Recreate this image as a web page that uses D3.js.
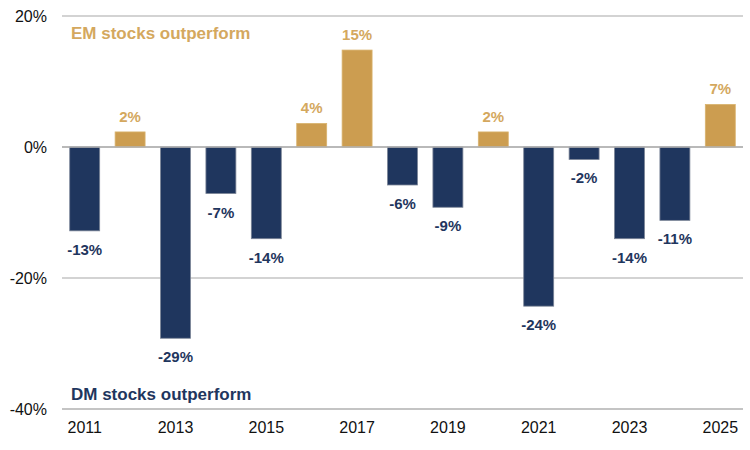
<!DOCTYPE html>
<html>
<head>
<meta charset="utf-8">
<script src="https://cdn.jsdelivr.net/npm/d3@7"></script>
<style>
  body { margin: 0; background: #fff; }
  svg { font-family: "Liberation Sans", Arial, sans-serif; }
</style>
</head>
<body>
<div class="canvas"></div>
<script>
// chart data
const years = [2011, 2012, 2013, 2014, 2015, 2016, 2017, 2018, 2019, 2020, 2021, 2022, 2023, 2024, 2025];
const values = [-12.8, 2.3, -29.2, -7.1, -14.0, 3.6, 14.8, -5.8, -9.2, 2.3, -24.3, -1.9, -14.0, -11.2, 6.5];
const labels = ['-13%', '2%', '-29%', '-7%', '-14%', '4%', '15%', '-6%', '-9%', '2%', '-24%', '-2%', '-14%', '-11%', '7%'];
const yTicks = [-40, -20, 0, 20];
const xTickYears = [2011, 2013, 2015, 2017, 2019, 2021, 2023, 2025];

const navy = '#1f365e';
const gold = '#cc9d50';
const goldText = '#d4a85e';

const width = 750, height = 450;
const margin = { top: 16, right: 7, bottom: 41, left: 62 };
const graphWidth = width - margin.left - margin.right;
const graphHeight = height - margin.top - margin.bottom;

const svg = d3.select('.canvas')
    .append('svg')
    .attr('width', width)
    .attr('height', height);

const graph = svg.append('g')
    .attr('transform', `translate(${margin.left},${margin.top})`);

const y = d3.scaleLinear()
    .domain([-40, 20])
    .range([graphHeight, 0]);

const x = d3.scaleBand()
    .domain(years)
    .range([0, graphWidth])
    .paddingInner(0.34)
    .paddingOuter(0.17);

// gridlines
graph.selectAll('line.grid')
    .data(yTicks)
    .enter()
    .append('line')
    .attr('class', 'grid')
    .attr('x1', 0)
    .attr('x2', graphWidth)
    .attr('y1', d => y(d))
    .attr('y2', d => y(d))
    .attr('stroke', '#c4c4c4')
    .attr('stroke-width', d => d === -40 ? 2 : 1.5);

// y axis labels
const yAxis = d3.axisLeft(y)
    .tickValues(yTicks)
    .tickFormat(d => d + '%')
    .tickSize(0)
    .tickPadding(15);

const yAxisGroup = graph.append('g').call(yAxis);
yAxisGroup.select('.domain').remove();
yAxisGroup.selectAll('text')
    .attr('fill', '#111')
    .attr('font-size', 16)
    .attr('font-family', '"Liberation Sans", Arial, sans-serif');

// x axis labels
const xAxis = d3.axisBottom(x)
    .tickValues(xTickYears)
    .tickSize(0)
    .tickPadding(13);

const xAxisGroup = graph.append('g')
    .attr('transform', `translate(0, ${graphHeight})`)
    .call(xAxis);
xAxisGroup.select('.domain').remove();
xAxisGroup.selectAll('text')
    .attr('fill', '#111')
    .attr('font-size', 16)
    .attr('font-family', '"Liberation Sans", Arial, sans-serif');

// bars
graph.selectAll('rect')
    .data(values)
    .enter()
    .append('rect')
    .attr('x', (d, i) => x(years[i]))
    .attr('width', x.bandwidth())
    .attr('y', d => y(Math.max(0, d)))
    .attr('height', d => Math.abs(y(d) - y(0)))
    .attr('fill', d => d >= 0 ? gold : navy)
    .attr('stroke', d => d >= 0 ? '#d9b36e' : '#7a8496')
    .attr('stroke-width', 0.8);

// redraw zero line on top of bars
graph.append('line')
    .attr('x1', 0)
    .attr('x2', graphWidth)
    .attr('y1', y(0))
    .attr('y2', y(0))
    .attr('stroke', '#b0b0b0')
    .attr('stroke-width', 1.5);

// value labels
graph.selectAll('text.val')
    .data(values)
    .enter()
    .append('text')
    .attr('class', 'val')
    .attr('x', (d, i) => x(years[i]) + x.bandwidth() / 2)
    .attr('y', d => d >= 0 ? y(d) - 10 : y(d) + 24)
    .attr('text-anchor', 'middle')
    .attr('font-size', 15)
    .attr('font-weight', 'bold')
    .attr('fill', d => d >= 0 ? goldText : navy)
    .text((d, i) => labels[i]);

// annotations
graph.append('text')
    .attr('x', 9)
    .attr('y', 23)
    .attr('font-size', 17)
    .attr('font-weight', 'bold')
    .attr('fill', goldText)
    .text('EM stocks outperform');

graph.append('text')
    .attr('x', 9)
    .attr('y', 384)
    .attr('font-size', 17)
    .attr('font-weight', 'bold')
    .attr('fill', navy)
    .text('DM stocks outperform');
</script>
</body>
</html>
